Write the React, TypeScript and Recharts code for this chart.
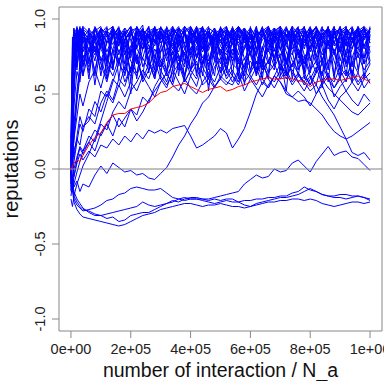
import { LineChart, Line, XAxis, YAxis, ReferenceLine } from "recharts";

const FONT = "'Liberation Sans', Arial, sans-serif";

// number of interactions (x positions of the samples)
const steps = [
  0, 5000, 10000, 20000, 30000, 40000,
  60000, 80000, 100000, 120000, 140000, 160000, 180000, 200000, 220000, 240000, 260000, 280000,
  300000, 320000, 340000, 360000, 380000, 400000, 420000, 440000, 460000, 480000, 500000, 520000,
  540000, 560000, 580000, 600000, 620000, 640000, 660000, 680000, 700000, 720000, 740000, 760000,
  780000, 800000, 820000, 840000, 860000, 880000, 900000, 920000, 940000, 960000, 980000, 1000000,
];

const xTicks = [0, 200000, 400000, 600000, 800000, 1000000];
const xTickLabels = ["0e+00", "2e+05", "4e+05", "6e+05", "8e+05", "1e+06"];
const yTicks = [-1, -0.5, 0, 0.5, 1];
const yTickLabels = ["-1.0", "-0.5", "0.0", "0.5", "1.0"];

// reputations in hundredths, one array per agent
const run01 = [5, 60, 88, 92, 85, 93,
  90, 78, 94, 88, 92, 70, 86, 93, 81, 90, 94, 85,
  92, 76, 89, 94, 83, 91, 88, 95, 79, 90, 93, 86,
  94, 82, 90, 77, 93, 88, 95, 84, 91, 72, 89, 94,
  86, 92, 80, 94, 89, 93, 78, 90, 95, 85, 92, 88];
const run02 = [-8, 40, 82, 90, 94, 87,
  93, 89, 80, 92, 95, 86, 91, 74, 90, 93, 88, 82,
  94, 90, 85, 78, 92, 95, 87, 93, 90, 81, 94, 89,
  91, 95, 86, 92, 79, 90, 94, 88, 93, 85, 95, 90,
  82, 91, 94, 88, 93, 76, 90, 94, 87, 92, 95, 91];
const run03 = [10, 75, 91, 86, 72, 88,
  80, 66, 84, 91, 78, 88, 62, 80, 92, 85, 73, 90,
  86, 94, 70, 82, 90, 77, 93, 84, 68, 88, 91, 80,
  74, 90, 85, 93, 81, 66, 88, 92, 79, 90, 84, 70,
  92, 86, 75, 90, 94, 82, 88, 71, 85, 93, 80, 89];
const run04 = [-12, 20, 55, 80, 91, 84,
  89, 93, 85, 70, 88, 94, 81, 90, 86, 93, 77, 91,
  88, 83, 93, 90, 72, 86, 94, 80, 91, 87, 76, 93,
  89, 84, 94, 80, 90, 92, 86, 74, 93, 88, 91, 83,
  95, 78, 90, 86, 92, 84, 94, 89, 80, 91, 87, 93];
const run05 = [3, 12, 30, 52, 70, 62,
  78, 85, 70, 58, 75, 88, 80, 65, 83, 90, 72, 60,
  78, 86, 92, 74, 63, 80, 88, 71, 84, 92, 77, 68,
  85, 90, 73, 82, 62, 78, 89, 93, 80, 70, 86, 91,
  76, 64, 82, 90, 85, 72, 60, 79, 88, 74, 83, 70];
const run06 = [-5, 45, 86, 93, 89, 95,
  91, 86, 94, 90, 83, 93, 89, 95, 87, 80, 92, 94,
  90, 86, 93, 84, 95, 89, 92, 85, 94, 91, 88, 95,
  83, 92, 89, 94, 87, 93, 81, 90, 95, 89, 92, 86,
  93, 90, 95, 87, 82, 92, 90, 94, 89, 93, 86, 94];
const run07 = [8, 18, 42, 65, 58, 76,
  68, 82, 74, 60, 79, 70, 86, 72, 64, 80, 90, 75,
  66, 58, 72, 84, 76, 62, 55, 70, 82, 90, 74, 66,
  80, 72, 88, 76, 64, 82, 70, 86, 92, 78, 68, 80,
  74, 62, 56, 72, 84, 78, 66, 58, 74, 86, 70, 78];
const run08 = [-15, 5, 25, 48, 66, 80,
  90, 85, 93, 78, 89, 94, 86, 91, 80, 93, 88, 94,
  84, 90, 95, 88, 80, 92, 86, 94, 90, 77, 89, 93,
  87, 95, 90, 84, 92, 88, 94, 79, 90, 93, 85, 92,
  88, 94, 83, 90, 92, 87, 95, 82, 91, 88, 94, 90];
const run09 = [0, -8, 5, 18, 30, 25,
  40, 35, 52, 48, 60, 55, 68, 62, 75, 58, 66, 72,
  60, 54, 66, 58, 50, 62, 70, 64, 56, 68, 74, 60,
  66, 58, 70, 78, 64, 72, 60, 54, 62, 70, 66, 58,
  52, 60, 68, 56, 62, 48, 55, 60, 66, 58, 64, 57];
const run10 = [5, 15, 8, 22, 35, 28,
  32, 45, 38, 50, 44, 56, 48, 58, 52, 62, 55, 48,
  58, 64, 56, 52, 60, 54, 50, 58, 64, 55, 60, 68,
  62, 56, 66, 60, 54, 48, 56, 62, 58, 50, 48, 52,
  48, 42, 50, 56, 46, 40, 48, 52, 46, 42, 50, 45];
const run11 = [-10, 30, 70, 85, 78, 90,
  84, 76, 88, 92, 70, 84, 90, 78, 86, 93, 82, 74,
  88, 92, 80, 86, 93, 76, 84, 90, 72, 86, 94, 80,
  88, 76, 92, 84, 90, 70, 80, 88, 94, 82, 76, 90,
  84, 92, 72, 86, 80, 90, 94, 76, 84, 90, 82, 88];
const run12 = [12, 50, 78, 68, 84, 92,
  86, 94, 80, 72, 90, 82, 94, 88, 70, 84, 92, 86,
  78, 88, 94, 82, 90, 86, 74, 92, 88, 94, 82, 76,
  90, 86, 94, 88, 76, 92, 84, 90, 80, 94, 88, 76,
  86, 80, 92, 88, 94, 84, 78, 92, 86, 80, 94, 84];
const run13 = [-18, -10, 0, 8, 15, 12,
  22, 18, 30, 26, 38, 45, 40, 52, 58, 66, 60, 72,
  68, 76, 84, 72, 80, 88, 76, 70, 82, 90, 78, 84,
  72, 80, 88, 66, 78, 86, 92, 80, 74, 86, 90, 78,
  70, 82, 88, 76, 84, 92, 78, 70, 86, 80, 74, 82];
const run14 = [2, -12, -5, 6, 14, 10,
  18, 12, 24, 30, 22, 34, 28, 40, 36, 48, 44, 55,
  62, 56, 64, 70, 58, 66, 60, 72, 64, 58, 68, 62,
  70, 66, 58, 64, 72, 60, 54, 62, 58, 52, 48, 45,
  46, 44, 40, 36, 30, 25, 22, 20, 22, 25, 28, 31];
const run15 = [-6, 8, 20, 45, 62, 74,
  80, 88, 72, 84, 90, 78, 86, 92, 80, 74, 88, 84,
  90, 82, 76, 88, 92, 80, 86, 74, 82, 90, 86, 78,
  84, 70, 80, 88, 76, 66, 72, 80, 70, 62, 70, 64,
  58, 52, 56, 48, 42, 36, 28, 20, 11, 9, 11, 6];
const run16 = [-20, -25, -18, -10, -4, 2,
  10, 20, 32, 45, 58, 70, 64, 78, 86, 80, 90, 84,
  92, 86, 78, 90, 84, 94, 88, 80, 92, 86, 90, 82,
  94, 88, 80, 90, 86, 94, 78, 88, 92, 84, 90, 94,
  86, 80, 92, 88, 84, 94, 90, 82, 92, 88, 94, 86];
const run17 = [8, 2, 12, 20, 16, 28,
  35, 30, 44, 52, 46, 60, 55, 68, 62, 74, 66, 80,
  72, 64, 78, 70, 62, 74, 82, 68, 60, 72, 80, 66,
  58, 66, 74, 62, 56, 64, 72, 80, 68, 60, 70, 78,
  64, 56, 66, 74, 62, 58, 68, 76, 64, 56, 62, 70];
const run18 = [-2, 35, 65, 88, 80, 92,
  86, 78, 92, 84, 94, 88, 76, 90, 94, 86, 80, 92,
  94, 88, 82, 94, 90, 84, 92, 78, 88, 94, 84, 90,
  86, 94, 90, 80, 92, 88, 84, 94, 86, 90, 80, 92,
  94, 86, 90, 82, 94, 88, 84, 92, 90, 94, 82, 92];
const run19 = [0, -5, -12, -8, -15, -10,
  -12, -4, 2, -3, 4, 1, -2, -1, -4, -3, -6, -7,
  -3, 1, 8, 16, 22, 30, 36, 44, 48, 55, 60, 56,
  62, 58, 66, 72, 64, 70, 62, 58, 66, 72, 64, 58,
  62, 56, 64, 70, 60, 54, 62, 66, 58, 52, 60, 64];
const run20 = [5, 10, -5, 4, 10, 6,
  12, 8, 16, 14, 20, 16, 22, 18, 24, 20, 26, 24,
  26, 24, 27, 28, 29, 22, 14, 16, 19, 22, 27, 24,
  14, 20, 27, 38, 50, 58, 54, 62, 70, 64, 56, 62,
  58, 66, 72, 60, 54, 50, 46, 42, 38, 36, 40, 44];
const run21 = [-3, -15, -10, -2, 5, 12,
  18, 26, 22, 30, 36, 28, 34, 40, 32, 38, 46, 52,
  58, 64, 56, 70, 78, 66, 74, 82, 70, 78, 64, 72,
  80, 74, 68, 78, 86, 72, 80, 68, 76, 84, 72, 66,
  74, 82, 70, 64, 72, 80, 68, 62, 70, 76, 66, 72];
const run22 = [0, -10, -18, -22, -25, -27,
  -28, -30, -31, -33, -32, -35, -34, -31, -30, -29, -29, -27,
  -25, -23, -21, -22, -20, -19, -19, -20, -20, -19, -18, -17,
  -16, -15, -10, -7, -4, -6, -5, 0, -2, -1, 4, 6,
  2, -2, 5, 10, 15, 9, 11, 12, 8, 7, 3, -1];
const run23 = [0, -12, -20, -24, -26, -28,
  -27, -26, -24, -21, -20, -17, -16, -13, -12, -13, -14, -14,
  -13, -16, -19, -20, -19, -20, -20, -21, -22, -23, -22, -21,
  -22, -22, -21, -21, -20, -20, -19, -19, -18, -18, -16, -15,
  -12, -14, -15, -17, -18, -18, -17, -17, -18, -18, -19, -21];
const run24 = [0, -8, -15, -20, -23, -26,
  -29, -31, -31, -30, -29, -28, -27, -26, -25, -22, -24, -25,
  -24, -23, -22, -20, -21, -20, -20, -20, -21, -20, -21, -20,
  -20, -22, -24, -25, -23, -22, -21, -20, -19, -19, -18, -17,
  -15, -13, -15, -17, -18, -19, -19, -20, -19, -18, -19, -20];
const run25 = [0, -14, -22, -27, -30, -32,
  -33, -34, -35, -36, -37, -38, -37, -35, -33, -31, -30, -29,
  -27, -26, -25, -24, -23, -23, -24, -25, -24, -24, -23, -24,
  -25, -25, -26, -25, -24, -23, -22, -22, -21, -21, -20, -20,
  -21, -20, -21, -23, -24, -25, -24, -23, -22, -22, -23, -22];
const run26 = [6, 70, 93, 78, 94, 70,
  92, 62, 90, 95, 68, 88, 94, 58, 92, 80, 95, 66,
  90, 94, 72, 93, 60, 88, 95, 70, 92, 84, 64, 94,
  88, 60, 93, 76, 95, 68, 90, 94, 62, 88, 95, 74,
  92, 66, 94, 86, 58, 93, 80, 95, 68, 90, 94, 72];
const run27 = [-4, 55, 90, 94, 66, 92,
  70, 94, 86, 64, 93, 76, 90, 95, 72, 62, 90, 94,
  68, 80, 95, 62, 91, 94, 74, 88, 60, 93, 90, 70,
  95, 82, 66, 94, 88, 72, 60, 92, 95, 70, 84, 94,
  64, 93, 88, 70, 95, 62, 90, 76, 94, 66, 88, 93];
const run28 = [15, 82, 94, 70, 90, 95,
  64, 88, 93, 72, 95, 60, 86, 92, 94, 68, 78, 95,
  86, 64, 90, 95, 82, 66, 93, 94, 76, 62, 92, 95,
  70, 90, 94, 64, 86, 95, 72, 66, 93, 90, 60, 88,
  95, 74, 64, 93, 90, 78, 62, 94, 86, 95, 60, 90];
const run29 = [-10, 25, 72, 93, 84, 62,
  94, 80, 66, 92, 88, 95, 70, 82, 90, 96, 64, 86,
  94, 72, 88, 66, 95, 90, 62, 84, 94, 80, 70, 92,
  62, 94, 84, 90, 70, 80, 95, 86, 66, 94, 78, 62,
  88, 95, 76, 62, 92, 84, 95, 68, 80, 94, 74, 95];
const run30 = [4, 65, 80, 95, 74, 88,
  60, 92, 95, 74, 66, 90, 84, 64, 95, 88, 70, 93,
  62, 95, 86, 76, 68, 95, 88, 62, 90, 72, 95, 84,
  92, 72, 62, 95, 66, 90, 84, 72, 95, 64, 92, 86,
  70, 88, 95, 80, 66, 95, 72, 88, 62, 86, 95, 78];
const run31 = [-14, 10, 48, 86, 95, 78,
  88, 56, 84, 94, 66, 92, 78, 50, 88, 94, 72, 60,
  92, 84, 58, 90, 95, 66, 80, 94, 52, 86, 92, 64,
  88, 94, 56, 84, 92, 60, 94, 88, 74, 52, 90, 95,
  60, 84, 92, 54, 88, 95, 66, 86, 58, 92, 70, 94];
const run32 = [20, 88, 76, 94, 86, 93,
  78, 95, 88, 70, 94, 84, 92, 76, 95, 86, 90, 72,
  95, 88, 80, 94, 90, 74, 95, 86, 92, 78, 94, 90,
  76, 95, 88, 92, 80, 94, 90, 74, 88, 95, 84, 92,
  80, 94, 90, 86, 95, 76, 92, 90, 84, 95, 88, 92];
const run33 = [-6, 30, 60, 76, 92, 68,
  86, 72, 94, 60, 80, 92, 66, 94, 74, 88, 95, 62,
  82, 93, 66, 86, 76, 94, 64, 90, 95, 74, 60, 88,
  94, 66, 82, 90, 62, 92, 95, 70, 86, 62, 94, 80,
  66, 90, 94, 72, 86, 60, 92, 95, 72, 64, 92, 84];
const run34 = [2, 48, 84, 66, 88, 94,
  72, 90, 62, 86, 95, 70, 92, 86, 60, 93, 84, 95,
  74, 66, 94, 88, 70, 92, 84, 95, 66, 92, 86, 72,
  94, 62, 90, 86, 95, 76, 64, 94, 90, 70, 95, 66,
  92, 72, 86, 95, 68, 90, 84, 62, 94, 76, 90, 86];
const run35 = [0, 5, 20, 35, 50, 42,
  58, 66, 54, 70, 62, 74, 58, 68, 76, 60, 70, 64,
  72, 62, 70, 76, 58, 66, 72, 56, 60, 54, 62, 58,
  56, 64, 52, 60, 68, 56, 64, 70, 60, 66, 58, 64,
  56, 62, 50, 58, 64, 54, 60, 52, 58, 64, 54, 60];

// mean reputation (red)
const meanRep = [-1, 2, 4, 6, 5, 9,
  16, 21, 24, 31, 36, 37, 37, 40, 41, 42, 44, 48,
  51, 52, 55, 56, 57, 55, 53, 51, 53, 54, 55, 52,
  53, 55, 56, 58, 59, 60, 61, 60, 60, 61, 60, 59,
  58, 55, 58, 59, 60, 60, 59, 60, 61, 62, 60, 58];

const runs = [
  run01, run02, run03, run04, run05, run06, run07, run08, run09, run10,
  run11, run12, run13, run14, run15, run16, run17, run18, run19, run20,
  run21, run22, run23, run24, run25, run26, run27, run28, run29, run30,
  run31, run32, run33, run34, run35,
];

const data = steps.map((x, i) => {
  const row: Record<string, number> = { x, mean: meanRep[i] / 100 };
  runs.forEach((r, j) => {
    row[`r${j}`] = r[i] / 100;
  });
  return row;
});

function XTick(props: any) {
  const { x, payload } = props;
  const idx = xTicks.indexOf(payload.value);
  return (
    <text x={x} y={354} textAnchor="middle" fontSize={14.5} fill="#222" fontFamily={FONT}>
      {xTickLabels[idx]}
    </text>
  );
}

function YTick(props: any) {
  const { y, payload } = props;
  const idx = yTicks.indexOf(payload.value);
  return (
    <text
      x={45}
      y={y}
      transform={`rotate(-90 45 ${y})`}
      textAnchor="middle"
      fontSize={14.5}
      fill="#222"
      fontFamily={FONT}
    >
      {yTickLabels[idx]}
    </text>
  );
}

export default function App() {
  return (
    <div style={{ position: "relative", width: 384, height: 381, background: "#fff", overflow: "hidden" }}>
      <style>{"body{margin:0}"}</style>
      <LineChart width={384} height={381} data={data} margin={{ top: 7, right: 2, left: 0, bottom: 0 }}>
        <XAxis
          dataKey="x"
          type="number"
          domain={[-40000, 1040000]}
          ticks={xTicks}
          interval={0}
          tick={XTick}
          tickSize={7}
          height={50}
          stroke="#888"
          allowDataOverflow
        />
        <YAxis
          type="number"
          domain={[-1.08, 1.08]}
          ticks={yTicks}
          interval={0}
          tick={YTick}
          tickSize={7}
          width={59}
          stroke="#888"
          allowDataOverflow
        />
        {runs.map((_, i) => (
          <Line
            key={i}
            type="linear"
            dataKey={`r${i}`}
            stroke="#0000ff"
            strokeWidth={1}
            dot={false}
            isAnimationActive={false}
          />
        ))}
        <Line type="linear" dataKey="mean" stroke="#ff0000" strokeWidth={1} dot={false} isAnimationActive={false} />
        <ReferenceLine y={0} stroke="#808080" strokeWidth={1} />
        <ReferenceLine y={1.08} stroke="#888" ifOverflow="visible" />
        <ReferenceLine x={1040000} stroke="#888" ifOverflow="visible" />
      </LineChart>
      <svg style={{ position: "absolute", left: 0, top: 0, pointerEvents: "none" }} width={384} height={381}>
        <text x={220.5} y={377} textAnchor="middle" fontSize={19.5} fill="#111" fontFamily={FONT}>
          number of interaction / N_a
        </text>
        <text x={18} y={169} transform="rotate(-90 18 169)" textAnchor="middle" fontSize={20} fill="#111" fontFamily={FONT}>
          reputations
        </text>
      </svg>
    </div>
  );
}
